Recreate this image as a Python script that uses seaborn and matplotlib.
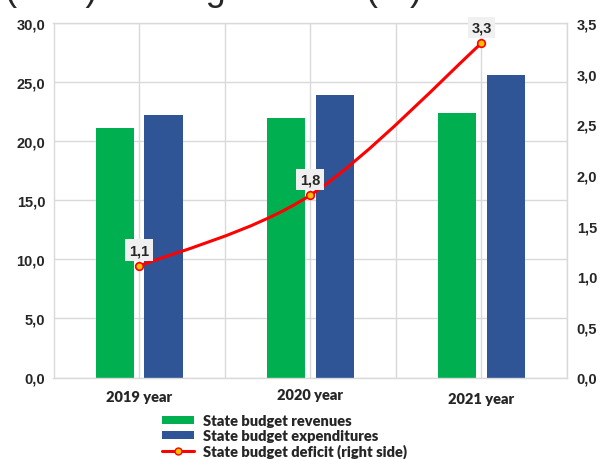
import numpy as np
import pandas as pd
import matplotlib
matplotlib.use("Agg")
import matplotlib.pyplot as plt
import matplotlib.transforms as mtransforms
from matplotlib.path import Path
from matplotlib.patches import PathPatch, Patch
from matplotlib.lines import Line2D
import seaborn as sns

# Budget figures by year
years = ["2019 year", "2020 year", "2021 year"]
revenues = [21.1, 22.0, 22.4]
expenditures = [22.2, 23.9, 25.6]
deficit = [1.1, 1.8, 3.3]
deficit_labels = ["1,1", "1,8", "3,3"]

left_ticks = [0, 5, 10, 15, 20, 25, 30]
right_ticks = [0, 0.5, 1.0, 1.5, 2.0, 2.5, 3.0, 3.5]

series_rev = "State budget revenues"
series_exp = "State budget expenditures"
series_def = "State budget deficit (right side)"

GREEN = "#00B050"
BLUE = "#2F5597"
RED = "#FF0000"
GRID = "#D9D9D9"

sns.set_style("white")
plt.rcParams["font.family"] = ["Liberation Sans", "DejaVu Sans"]

df = pd.DataFrame({
    "year": years * 2,
    "value": revenues + expenditures,
    "series": [series_rev] * len(years) + [series_exp] * len(years),
})

fig = plt.figure(figsize=(6, 4.6), dpi=100)
ax = fig.add_axes([53.5 / 600, 1 - 378.5 / 460, (567 - 53.5) / 600, (378.5 - 24) / 460])

sns.barplot(data=df, x="year", y="value", hue="series",
            palette=[GREEN, BLUE], saturation=1, width=0.571, gap=0.22,
            edgecolor="none", linewidth=0, legend=False, ax=ax, zorder=2)

ax.set_xlim(-0.5, 2.5)
ax.set_ylim(0, 30)
ax.set_yticks(left_ticks)
ax.set_yticklabels([f"{v:.1f}".replace(".", ",") for v in left_ticks],
                   fontsize=10.5, fontweight="bold")
ax.set_xticks([-0.5, 0, 0.5, 1, 1.5, 2, 2.5])
ax.set_xticklabels(["", years[0], "", years[1], "", years[2], ""],
                   fontsize=10.5, fontweight="heavy", family=["Lato", "DejaVu Sans"])
ax.tick_params(axis="both", length=0)
ax.tick_params(axis="y", pad=6)
ax.tick_params(axis="x", pad=9)
ax.set_xlabel("")
ax.set_ylabel("")
ax.grid(True, color=GRID, linewidth=1, zorder=0)
ax.set_axisbelow(True)
for s in ax.spines.values():
    s.set_color(GRID)
    s.set_linewidth(1)

# slight vertical stagger of the category labels
shifts = {years[0]: 0, years[1]: 2, years[2]: -2}
for lbl in ax.get_xticklabels():
    dy = shifts.get(lbl.get_text(), 0)
    lbl.set_transform(lbl.get_transform() +
                      mtransforms.ScaledTranslation(0, dy / 100, fig.dpi_scale_trans))

# Right axis: deficit
ax2 = ax.twinx()
ax2.set_ylim(0, 3.5)
ax2.set_yticks(right_ticks)
ax2.set_yticklabels([f"{v:.1f}".replace(".", ",") for v in right_ticks],
                    fontsize=10.5, fontweight="bold")
ax2.tick_params(axis="y", length=0, pad=7)
ax2.grid(False)
for s in ax2.spines.values():
    s.set_visible(False)

x_pos = np.arange(len(years), dtype=float)
pts = np.column_stack([x_pos, deficit])

# smoothed connector: Catmull-Rom segments built in display space
fig.canvas.draw()
disp = ax2.transData.transform(pts)
ext = np.vstack([disp[0], disp, disp[-1]])
verts = [disp[0]]
codes = [Path.MOVETO]
for i in range(len(disp) - 1):
    p0, p1, p2, p3 = ext[i], ext[i + 1], ext[i + 2], ext[i + 3]
    c1 = p1 + (p2 - p0) / 6.0
    c2 = p2 - (p3 - p1) / 6.0
    verts += [c1, c2, p2]
    codes += [Path.CURVE4] * 3
verts_data = ax2.transData.inverted().transform(np.array(verts))
curve = PathPatch(Path(verts_data, codes), facecolor="none", edgecolor=RED,
                  linewidth=2.2, transform=ax2.transData, zorder=3)
ax2.add_patch(curve)
ax2.plot(x_pos, deficit, linestyle="none", marker="o", markersize=5.5,
         markerfacecolor="#FFC000", markeredgecolor=RED, markeredgewidth=1.2,
         zorder=4)

for xv, yv, txt in zip(x_pos, deficit, deficit_labels):
    ax2.annotate(txt, (xv, yv), xytext=(0, 11.5), textcoords="offset points",
                 ha="center", va="center", fontsize=10.5, fontweight="bold",
                 bbox=dict(boxstyle="square,pad=0.25", facecolor="#F0F0F0",
                           edgecolor="none"),
                 zorder=5)

# Legend below the plot
handles = [
    Patch(facecolor=GREEN, edgecolor="none"),
    Patch(facecolor=BLUE, edgecolor="none"),
    Line2D([], [], color=RED, linewidth=2.2, marker="o", markersize=5,
           markerfacecolor="#FFC000", markeredgecolor=RED),
]
fig.legend(handles, [series_rev, series_exp, series_def],
           loc="upper left", bbox_to_anchor=(152 / 600, 1 - 405 / 460),
           frameon=False, handlelength=2.2, handleheight=0.45,
           handletextpad=0.6, labelspacing=0.12, borderpad=0.2,
           prop={"family": ["Lato", "DejaVu Sans"], "weight": "heavy", "size": 10.5})

# Heading line (lower part only falls inside the canvas)
fig.text(0.008, 1.0, "(sum) in budget terms (%)",
         fontsize=26, va="baseline", ha="left")

fig.savefig("out.png", dpi=100)
